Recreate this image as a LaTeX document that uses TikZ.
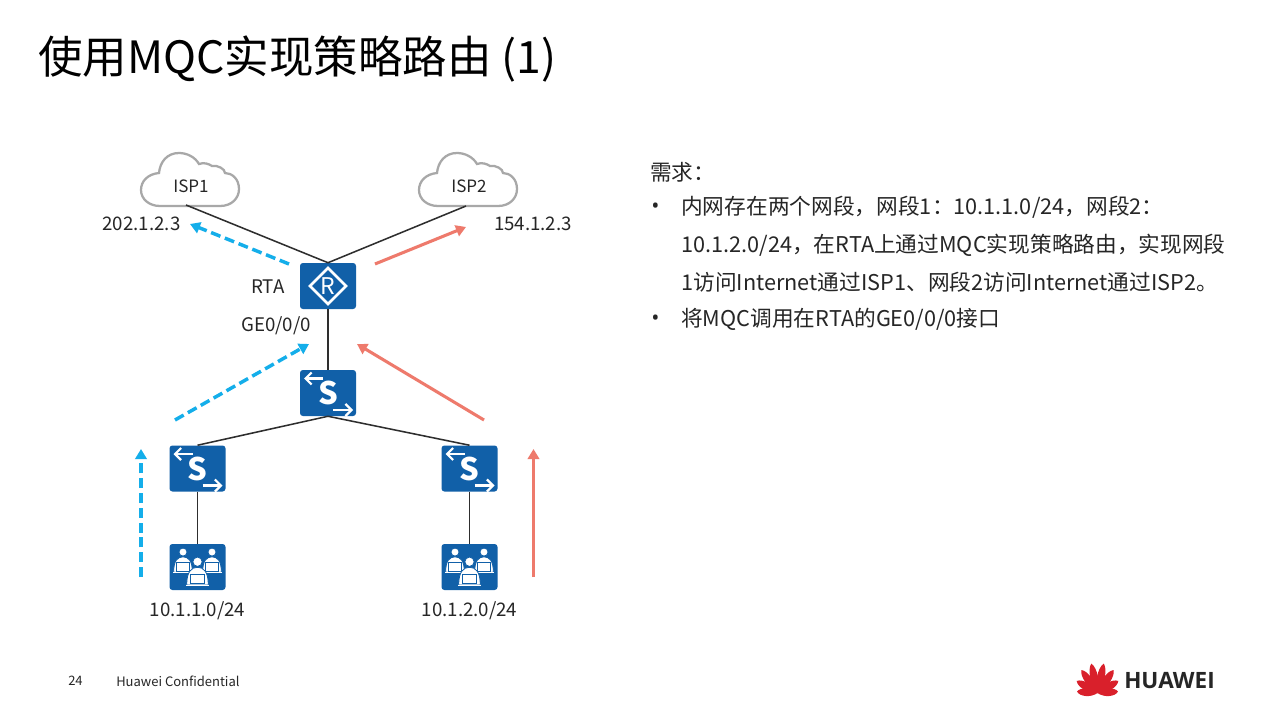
\documentclass[tikz,border=0pt]{standalone}
\usepackage{fontspec}
\setmainfont{Noto Sans CJK SC}
\newfontfamily\latinfont{Open Sans}
\usetikzlibrary{arrows.meta}
\definecolor{devblue}{HTML}{1160A8}
\definecolor{flowblue}{HTML}{14AEEA}
\definecolor{flowred}{HTML}{EE7A6C}
\definecolor{linegrey}{HTML}{2E2E2E}
\definecolor{cloudgrey}{HTML}{A8A8A8}
\definecolor{txt}{HTML}{262626}
\definecolor{logored}{HTML}{D9202B}
\newcommand{\px}[1]{\fontsize{\the\dimexpr #1pt*3/4\relax}{\the\dimexpr #1pt*3/4\relax}\selectfont}
\newcommand{\usersmall}[3]{%
  \begin{scope}[shift={(#1,#2)},scale=#3]
    \filldraw[fill=white,draw=devblue,line width=0.6pt] (0,-7.5) circle (3.1);
    \filldraw[fill=white,draw=devblue,line width=0.6pt] (-7.2,8) .. controls (-7.2,-1) and (-4,-3.8) .. (0,-3.8) .. controls (4,-3.8) and (7.2,-1) .. (7.2,8) -- cycle;
    \filldraw[fill=white,draw=devblue,line width=0.6pt] (-4.8,0.6) rectangle (4.8,7);
    \fill[white] (-7.5,7.8) rectangle (7.5,8.8);
  \end{scope}}
\tikzset{
  x=0.75pt,y=-0.75pt,
  device/.style={fill=devblue,rounded corners=2.2pt,minimum width=42pt,minimum height=34.5pt,inner sep=0pt,draw=none},
  link/.style={draw=linegrey,line width=1.15pt},
  flowb/.style={draw=flowblue,line width=2.6pt,dash pattern=on 7.5pt off 3.6pt,-{Triangle[length=7.5pt,width=8.5pt]}},
  flowr/.style={draw=flowred,line width=2.3pt,-{Triangle[length=7.5pt,width=8.5pt]}},
  lbl/.style={text=txt,inner sep=0pt,font=\px{18.7}},
  isplbl/.style={text=txt,inner sep=0pt,font=\px{17}},
  body/.style={text=txt,inner sep=0pt,anchor=west,font=\px{21.7}},
  routericon/.pic={
    \draw[white,line width=2pt] (0,-18) -- (18,0) -- (0,18) -- (-18,0) -- cycle;
    \node[text=white,inner sep=0pt,font=\px{23}] at (0,0) {R};
  },
  switchicon/.pic={
    \node[text=white,inner sep=0pt,font=\bfseries\px{31}] at (0,0) {S};
    \draw[white,line width=1.6pt,-{Straight Barb[length=4.5pt,width=9pt]}] (-5,-14.5) -- (-24,-14.5);
    \draw[white,line width=1.6pt,-{Straight Barb[length=4.5pt,width=9pt]}] (5,17) -- (25,17);
  },
  usersicon/.pic={
    \usersmall{-14.5}{-5.2}{1.3}
    \usersmall{14.5}{-5.2}{1.3}
    \usersmall{0}{6}{1.5}
  },
  cloudicon/.pic={
    \draw[cloudgrey,line width=1.7pt,fill=white]
      (-30,26) -- (30,26)
      .. controls (42,26) and (49,18) .. (49,9)
      .. controls (49,-1) and (42,-7) .. (35,-7)
      .. controls (35,-11) and (28,-15) .. (22,-14)
      .. controls (19,-16) and (14,-18) .. (9,-16)
      .. controls (5,-23) and (-3,-27) .. (-11,-27)
      .. controls (-23,-27) and (-30,-18) .. (-31,-7)
      .. controls (-42,-6) and (-49,1) .. (-49,10)
      .. controls (-49,19) and (-41,26) .. (-30,26) -- cycle;
  },
  petal/.pic={
    \fill[logored] (0,0) .. controls (-5.2,{-0.3*\pgfkeysvalueof{/tikz/petallen}}) and (-5,{-0.85*\pgfkeysvalueof{/tikz/petallen}}) .. (0,{-1*\pgfkeysvalueof{/tikz/petallen}})
      .. controls (5,{-0.85*\pgfkeysvalueof{/tikz/petallen}}) and (5.2,{-0.3*\pgfkeysvalueof{/tikz/petallen}}) .. (0,0) -- cycle;
  },
  petallen/.initial=29,
}
\begin{document}
\begin{tikzpicture}
\useasboundingbox (0,0) rectangle (1282,713);
\fill[white] (0,0) rectangle (1282,713);

% title
\node[text=black,inner sep=0pt,anchor=west,font=\px{44.5}] (title) at (38,59) {使用MQC实现策略路由 (1)};

% clouds
\pic at (190,180) {cloudicon};
\pic at (468,180) {cloudicon};
\node[isplbl] (isp1) at (191,186) {ISP1};
\node[isplbl] (isp2) at (469,186) {ISP2};
\coordinate (isp1port) at (186,205);
\coordinate (isp2port) at (466,206);

% devices
\node[device] (rta) at (328,286) {};
\node[device] (sw0) at (328,393) {};
\node[device] (sw1) at (197.5,468.5) {};
\node[device] (sw2) at (469.5,468.5) {};
\node[device] (pc1) at (197.5,567) {};
\node[device] (pc2) at (469.5,567) {};
\pic at (rta) {routericon};
\pic at (sw0) {switchicon};
\pic at (sw1) {switchicon};
\pic at (sw2) {switchicon};
\pic at (pc1) {usersicon};
\pic at (pc2) {usersicon};

% links
\draw[link] (isp1port) -- (rta.north);
\draw[link] (isp2port) -- (rta.north);
\draw[link] (rta.south) -- (sw0.north);
\draw[link] (sw0.south) -- (sw1.north);
\draw[link] (sw0.south) -- (sw2.north);
\draw[link] (sw1.south) -- (pc1.north);
\draw[link] (sw2.south) -- (pc2.north);

% flows
\coordinate (b1a) at (289,264); \coordinate (b1b) at (190,224);
\coordinate (b2a) at (175,420); \coordinate (b2b) at (309,344);
\coordinate (b3a) at (141,577); \coordinate (b3b) at (141,449);
\coordinate (r1a) at (375,264); \coordinate (r1b) at (466,227);
\coordinate (r2a) at (484,420); \coordinate (r2b) at (357,344);
\coordinate (r3a) at (533.5,577); \coordinate (r3b) at (533.5,449);
\draw[flowb] (b1a) -- (b1b);
\draw[flowb] (b2a) -- (b2b);
\draw[flowb] (b3a) -- (b3b);
\draw[flowr] (r1a) -- (r1b);
\draw[flowr] (r2a) -- (r2b);
\draw[flowr] (r3a) -- (r3b);

% labels
\node[lbl] (ip1) at (141.5,224) {202.1.2.3};
\node[lbl] (ip2) at (533,224) {154.1.2.3};
\node[lbl] (rtalbl) at (268,287) {RTA};
\node[lbl] (ge) at (276,326) {GE0/0/0};
\node[lbl] (net1) at (197.5,611) {10.1.1.0/24};
\node[lbl] (net2) at (469.5,611) {10.1.2.0/24};

% requirement text
\node[body] (t0) at (650,172) {需求：};
\node[body,font=\latinfont\px{21.7}] (b1) at (651,208) {•};
\node[body] (t1) at (681,207) {内网存在两个网段，网段1：10.1.1.0/24，网段2：};
\node[body] (t2) at (681,245) {10.1.2.0/24，在RTA上通过MQC实现策略路由，实现网段};
\node[body] (t3) at (681,282) {1访问Internet通过ISP1、网段2访问Internet通过ISP2。};
\node[body,font=\latinfont\px{21.7}] (b2) at (651,320) {•};
\node[body] (t4) at (681,319) {将MQC调用在RTA的GE0/0/0接口};

% footer
\node[text=txt,inner sep=0pt,anchor=west,font=\px{13}] (pg) at (68,681) {24};
\node[text=txt,inner sep=0pt,anchor=west,font=\px{13}] (conf) at (116,681) {Huawei Confidential};

% logo
\begin{scope}[shift={(1097.5,693)}]
  \foreach \a/\l in {-12/30,-35/28,-60/24,-86/20.5,12/30,35/28,60/24,86/20.5}{
    \pic[rotate=\a,petallen=\l] at (0,0) {petal};
  }
\end{scope}
\node[text=txt,inner sep=0pt,anchor=west,font=\latinfont\bfseries\px{22.5}] (brand) at (1124,681) {HUAWEI};
\end{tikzpicture}
\end{document}
